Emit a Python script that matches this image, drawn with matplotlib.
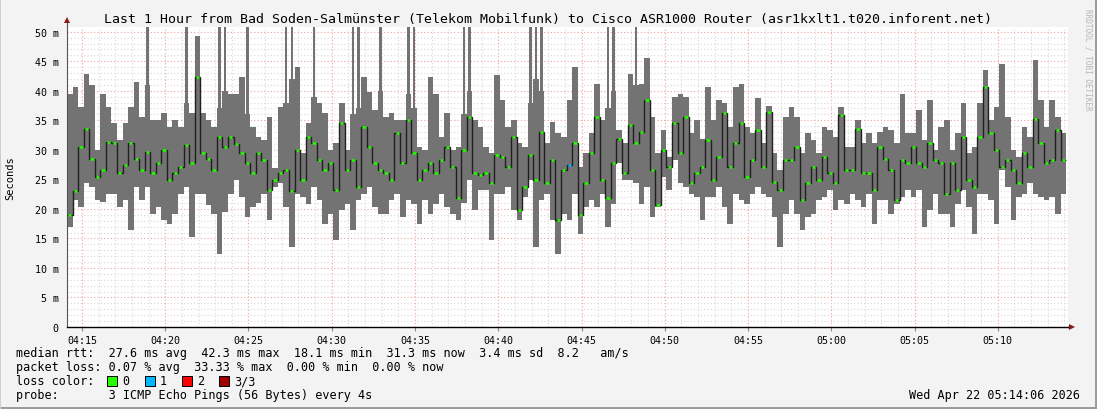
import numpy as np
import matplotlib
matplotlib.use("Agg")
import matplotlib.pyplot as plt
from matplotlib.patches import Rectangle
from matplotlib.ticker import FixedLocator, FixedFormatter

# 1 hour of SmokePing data, one sample every 20 s starting 04:14:06 (ms)
step_s = 20
rtt_lo = [17.0, 21.5, 20.3, 24.3, 23.7, 21.5, 21.2, 22.6, 22.6, 20.3,
          21.5, 16.4, 23.7, 21.5, 23.7, 19.2, 20.3, 18.1, 17.5, 19.2,
          22.6, 23.7, 15.3, 22.6, 22.6, 20.6, 19.2, 12.4, 19.5, 22.6,
          24.9, 22.0, 18.6, 20.3, 21.0, 22.6, 18.1, 23.7, 24.3, 20.3,
          13.6, 22.6, 22.0, 20.9, 23.7, 21.5, 17.5, 19.2, 14.7, 19.8,
          20.9, 16.4, 21.5, 22.6, 23.7, 20.3, 19.2, 19.2, 21.5, 22.6,
          18.6, 21.5, 20.9, 17.5, 21.5, 19.2, 20.9, 22.6, 20.3, 19.2,
          18.1, 21.0, 24.9, 19.8, 23.2, 23.2, 14.7, 22.6, 22.6, 23.7,
          19.8, 18.1, 22.0, 24.9, 13.6, 21.5, 22.6, 18.1, 12.4, 19.2,
          18.1, 22.6, 15.8, 20.3, 21.5, 20.3, 22.6, 17.0, 20.9, 27.7,
          24.9, 24.9, 24.3, 20.9, 23.7, 18.6, 20.3, 25.4, 23.2, 28.2,
          24.3, 23.7, 22.6, 22.0, 18.1, 22.0, 22.0, 23.7, 20.3, 17.5,
          22.6, 21.5, 20.9, 22.6, 23.7, 22.6, 22.0, 18.6, 13.6, 19.2,
          21.5, 19.2, 16.4, 18.6, 19.2, 21.5, 22.0, 23.2, 19.8, 21.5,
          20.9, 22.6, 21.5, 20.3, 22.6, 17.5, 21.5, 21.5, 19.2, 20.9,
          22.0, 23.2, 22.0, 23.2, 17.0, 19.8, 22.6, 19.2, 19.2, 17.0,
          20.9, 23.2, 20.3, 15.8, 22.6, 22.6, 21.5, 17.5, 26.6, 23.7,
          18.1, 22.0, 22.6, 24.3, 22.6, 22.0, 21.5, 22.0, 19.2, 22.6]
rtt_med = [19.0, 23.0, 30.5, 33.5, 28.5, 25.4, 26.6, 31.4, 31.1, 26.0,
           27.4, 31.1, 28.5, 26.6, 29.7, 26.0, 27.7, 29.9, 24.9, 26.0,
           27.1, 30.8, 27.7, 42.3, 29.4, 28.5, 26.6, 32.2, 30.5, 32.2,
           31.0, 29.4, 27.7, 26.0, 29.4, 28.2, 23.2, 24.9, 26.0, 26.6,
           23.0, 29.9, 24.9, 32.2, 31.1, 28.2, 26.6, 27.7, 23.2, 34.5,
           26.6, 28.2, 23.7, 33.9, 30.5, 27.7, 26.6, 26.0, 24.9, 32.8,
           27.7, 35.0, 29.4, 24.9, 26.6, 27.7, 26.0, 28.2, 30.5, 27.1,
           21.8, 29.9, 35.6, 26.0, 25.7, 26.0, 24.3, 29.1, 28.8, 27.1,
           32.2, 19.8, 23.7, 29.1, 24.9, 33.1, 24.3, 28.2, 18.1, 26.6,
           27.4, 31.1, 18.9, 24.3, 29.4, 35.6, 24.9, 21.8, 27.7, 31.9,
           26.0, 34.2, 31.1, 33.0, 38.4, 26.6, 20.6, 29.9, 27.1, 34.5,
           29.4, 35.6, 24.3, 26.0, 27.1, 31.6, 24.9, 28.8, 36.2, 27.1,
           31.1, 34.5, 25.4, 28.2, 33.3, 27.1, 36.4, 24.6, 23.2, 28.2,
           28.2, 30.5, 21.5, 24.3, 27.1, 24.9, 28.8, 26.0, 24.3, 35.9,
           26.6, 26.6, 33.6, 26.0, 26.0, 23.2, 30.5, 28.5, 26.6, 21.5,
           28.2, 27.7, 30.5, 27.7, 27.1, 31.1, 28.2, 27.7, 22.6, 27.7,
           23.2, 32.2, 24.9, 23.7, 32.2, 40.7, 32.8, 29.9, 27.1, 28.2,
           26.6, 24.3, 29.4, 27.1, 35.3, 31.1, 27.7, 28.2, 33.3, 28.2]
rtt_hi = [39.5, 40.7, 37.3, 42.9, 41.0, 29.9, 39.5, 37.3, 34.5, 31.6,
          34.5, 37.3, 41.5, 35.6, 41.0, 35.0, 35.0, 36.2, 33.9, 35.0,
          33.9, 38.0, 36.2, 49.2, 36.2, 35.0, 33.9, 37.0, 40.0, 39.5,
          39.5, 42.4, 36.0, 33.9, 32.2, 31.6, 35.6, 27.0, 37.3, 38.0,
          42.0, 44.1, 29.4, 34.5, 39.0, 37.9, 36.2, 29.9, 31.1, 37.9,
          29.9, 36.0, 37.0, 42.4, 39.8, 36.7, 40.0, 35.6, 36.2, 35.0,
          35.0, 39.5, 37.0, 30.5, 29.9, 42.4, 39.5, 32.2, 36.2, 29.9,
          30.5, 36.0, 40.0, 35.0, 33.9, 30.5, 29.4, 42.7, 38.4, 33.9,
          35.0, 31.1, 30.5, 38.0, 42.0, 40.0, 31.1, 34.7, 32.8, 32.2,
          38.4, 44.1, 27.1, 29.4, 32.8, 41.2, 35.0, 37.0, 40.0, 33.3,
          31.1, 42.9, 41.0, 41.2, 45.5, 35.6, 29.4, 33.3, 28.8, 39.0,
          39.5, 39.0, 32.8, 35.0, 31.9, 40.7, 35.0, 38.4, 37.9, 33.9,
          40.7, 41.2, 33.9, 32.8, 38.7, 31.1, 37.5, 29.4, 26.6, 35.6,
          37.3, 35.6, 29.4, 32.8, 31.6, 29.4, 33.9, 33.3, 32.2, 37.3,
          30.5, 30.5, 35.0, 31.1, 32.8, 31.1, 33.0, 33.9, 33.3, 31.1,
          39.5, 32.8, 32.8, 36.7, 31.6, 38.4, 29.9, 33.9, 35.0, 29.9,
          32.8, 37.9, 29.4, 30.5, 37.9, 43.5, 35.0, 37.3, 44.6, 35.6,
          29.9, 28.8, 33.9, 32.2, 45.2, 38.4, 33.9, 38.4, 35.5, 32.8]
# single slow pings that run off the top of the graph
spike_idx = [14, 21, 27, 28, 32, 39, 40, 44, 51, 52, 56,
             61, 62, 71, 72, 83, 84, 85, 97, 98, 102]
spike_max = [55.0, 58.0, 60.0, 56.0, 62.0, 57.0, 60.0, 55.0, 59.0, 56.0, 58.0,
             61.0, 57.0, 60.0, 58.0, 56.0, 62.0, 57.0, 60.0, 63.0, 56.0]
# samples with one lost ping (blue)
loss1_idx = [90]

y_ticks = [0, 5, 10, 15, 20, 25, 30, 35, 40, 45, 50]
y_labels = ["0", "5 m", "10 m", "15 m", "20 m", "25 m", "30 m",
            "35 m", "40 m", "45 m", "50 m"]
x_labels = ["04:15", "04:20", "04:25", "04:30", "04:35", "04:40",
            "04:45", "04:50", "04:55", "05:00", "05:05", "05:10"]
first_tick_s = 54          # 04:15:00 is 54 s after 04:14:06

title = ("Last 1 Hour from Bad Soden-Salmünster (Telekom Mobilfunk) "
         "to Cisco ASR1000 Router (asr1kxlt1.t020.inforent.net)")
legend_lines = [
    "median rtt:  27.6 ms avg  42.3 ms max  18.1 ms min  31.3 ms now  3.4 ms sd  8.2   am/s",
    "packet loss: 0.07 % avg  33.33 % max  0.00 % min  0.00 % now",
    "loss color:",
    "probe:       3 ICMP Echo Pings (56 Bytes) every 4s",
]
loss_colors = [("0", "#26ff00"), ("1", "#00b8ff"), ("2", "#ff0000"), ("3/3", "#a10000")]

W, H = 1097, 410
MONO = "DejaVu Sans Mono"

fig = plt.figure(figsize=(W / 100, H / 100), dpi=100, facecolor="#f3f3f3")
ax = fig.add_axes([67 / W, (H - 328) / H, 1001 / W, 300 / H])
ax.set_facecolor("white")

lo = np.array(rtt_lo)
med = np.array(rtt_med)
hi = np.array(rtt_hi)
n = len(med)
edges = np.arange(n + 1) * step_s
centers = edges[:-1] + step_s / 2

# smoke (min..max of the pings)
ax.stairs(hi, edges, baseline=lo, fill=True, color="#737373", lw=0, zorder=2)
sp = np.array(spike_idx)
ax.bar(centers[sp], np.array(spike_max) - hi[sp], bottom=hi[sp], width=9,
       color="#737373", lw=0, zorder=2)
# median line + loss colour
ax.stairs(med, edges, baseline=None, color="#202020", lw=1.0, zorder=3)
cols = ["#00b8ff" if i in loss1_idx else "#26ff00" for i in range(n)]
ax.hlines(med, edges[:-1] + 4, edges[1:] - 4, colors=cols, lw=1.8, zorder=4)

ax.set_xlim(0, 3607)
ax.set_ylim(0, 50.8)

major_x = [first_tick_s + 300 * k for k in range(len(x_labels))]
minor_x = [first_tick_s + 60 * k for k in range(60)]
ax.xaxis.set_major_locator(FixedLocator(major_x))
ax.xaxis.set_major_formatter(FixedFormatter(x_labels))
ax.xaxis.set_minor_locator(FixedLocator(minor_x))
ax.yaxis.set_major_locator(FixedLocator(y_ticks))
ax.yaxis.set_major_formatter(FixedFormatter(y_labels))
ax.yaxis.set_minor_locator(FixedLocator(np.arange(0, 51, 1)))

ax.grid(which="minor", color="#d8d8d8", linestyle=(0, (1, 2)), lw=0.8, zorder=1)
ax.grid(which="major", color="#f0a0a0", linestyle=(0, (1, 2)), lw=0.8, zorder=1)
ax.set_axisbelow(True)

ax.tick_params(axis="x", which="major", length=3, width=0.8, color="#888888",
               pad=3, labelsize=7.2, labelcolor="black")
ax.tick_params(axis="x", which="minor", length=0)
ax.tick_params(axis="y", which="both", length=0, pad=6, labelsize=7.2)
for lab in ax.get_xticklabels() + ax.get_yticklabels():
    lab.set_family(MONO)

for s in ["top", "right"]:
    ax.spines[s].set_visible(False)
ax.spines["bottom"].set_color("black")
ax.spines["bottom"].set_linewidth(1.0)
ax.spines["left"].set_color("#555555")
ax.spines["left"].set_linewidth(0.8)

# axis arrows
ax.plot([0, 0], [1, 1 + 5 / 300], transform=ax.transAxes, color="#555555",
        lw=0.8, clip_on=False)
ax.plot([1, 1 + 2 / 1001], [0, 0], transform=ax.transAxes, color="black",
        lw=1.0, clip_on=False)
ax.plot([0], [1 + 7 / 300], marker="^", ms=4.5, color="#8b1a1a",
        transform=ax.transAxes, clip_on=False, mew=0)
ax.plot([1 + 4 / 1001], [0], marker=">", ms=4.5, color="#8b1a1a",
        transform=ax.transAxes, clip_on=False, mew=0)


def ftext(x, y, s, **kw):
    kw.setdefault("family", MONO)
    kw.setdefault("va", "center")
    return fig.text(x / W, 1 - y / H, s, **kw)


ftext(548, 19, title, ha="center", fontsize=9.5)
ftext(10, 178, "Seconds", ha="center", rotation=90, fontsize=7.5)
ftext(1088, 60, "RRDTOOL / TOBI OETIKER", ha="center", rotation=270,
      fontsize=5.5, color="#b4b4b4")

row_y = [354, 368, 382, 396]
for yy, line in zip(row_y, legend_lines):
    ftext(16, yy, line, ha="left", fontsize=8.5)

box_x = [107, 145, 182, 219]
for (lab, col), bx in zip(loss_colors, box_x):
    fig.add_artist(Rectangle((bx / W, 1 - 387 / H), 10 / W, 10 / H,
                             transform=fig.transFigure, facecolor=col,
                             edgecolor="black", lw=0.7))
    ftext(bx + 15, 382, lab, ha="left", fontsize=8.5)

ftext(1080, 396, "Wed Apr 22 05:14:06 2026", ha="right", fontsize=8.5)

# rrdtool-like frame
fig.add_artist(Rectangle((0, 0), 1, 2 / H, transform=fig.transFigure,
                         facecolor="#9c9c9c", lw=0))
fig.add_artist(Rectangle((1 - 2 / W, 0), 2 / W, 1, transform=fig.transFigure,
                         facecolor="#9c9c9c", lw=0))
fig.add_artist(Rectangle((0, 1 - 1 / H), 1, 1 / H, transform=fig.transFigure,
                         facecolor="#cfcfcf", lw=0))
fig.add_artist(Rectangle((0, 0), 1 / W, 1, transform=fig.transFigure,
                         facecolor="#cfcfcf", lw=0))

fig.savefig("out.png", dpi=100, facecolor=fig.get_facecolor())
